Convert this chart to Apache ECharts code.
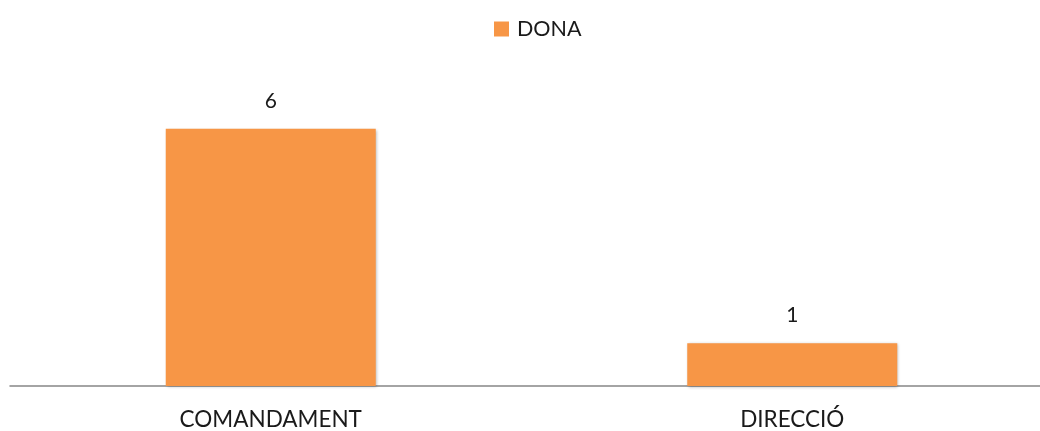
<!DOCTYPE html>
<html>
<head>
<meta charset="utf-8">
<script src="https://cdn.jsdelivr.net/npm/echarts@6/dist/echarts.min.js"></script>
<style>
  html, body { margin: 0; padding: 0; background: #fff; overflow: hidden; width: 1040px; height: 431px; }
  /* the plot area runs a little past the right edge, so the axis line bleeds off the page */
  #chart { width: 1060px; height: 431px; }
</style>
</head>
<body>
<div id="chart"></div>
<script>
const categories = ['COMANDAMENT', 'DIRECCIÓ'];
const seriesName = 'DONA';
const donaValues = [6, 1];

const FONT = 'Lato, "Open Sans", sans-serif';
const chart = echarts.init(document.getElementById('chart'));
chart.setOption({
  animation: false,
  legend: {
    top: 13,
    left: 489,
    itemWidth: 15,
    itemHeight: 15,
    itemGap: 8,
    icon: 'rect',
    textStyle: { fontFamily: FONT, fontSize: 21.5, color: '#1a1a1a', padding: [0, 0, 0, 3] },
    data: [seriesName]
  },
  grid: { left: 10, right: 7, top: 86, bottom: 45, containLabel: false },
  xAxis: {
    type: 'category',
    data: categories,
    axisLine: { lineStyle: { color: '#868686', width: 1.5 } },
    axisTick: { show: false },
    axisLabel: { fontFamily: FONT, fontSize: 22.5, color: '#1a1a1a', margin: 22 }
  },
  yAxis: {
    type: 'value',
    min: 0,
    max: 7,
    show: false,
    splitLine: { show: false }
  },
  series: [{
    name: seriesName,
    type: 'bar',
    data: donaValues,
    barWidth: 210,
    itemStyle: {
      color: '#F79646',
      shadowColor: 'rgba(0,0,0,0.3)',
      shadowBlur: 3,
      shadowOffsetX: 1,
      shadowOffsetY: 1
    },
    label: {
      show: true,
      position: 'top',
      distance: 17,
      fontFamily: FONT,
      fontSize: 21,
      color: '#1a1a1a'
    }
  }]
});
</script>
</body>
</html>
